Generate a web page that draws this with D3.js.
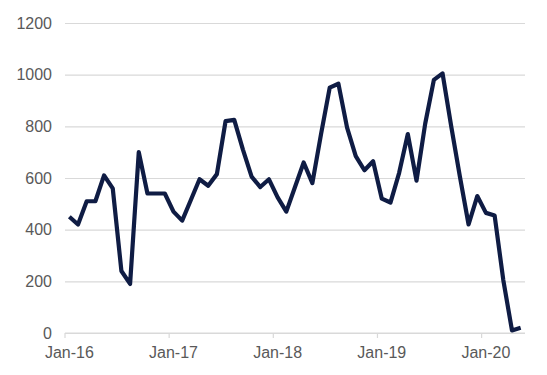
<!DOCTYPE html>
<html>
<head>
<meta charset="utf-8">
<style>
  body { margin: 0; background: #fff; }
  text { font-family: "Liberation Sans", Arial, sans-serif; }
</style>
</head>
<body>
<div id="chart"></div>
<script src="https://cdn.jsdelivr.net/npm/d3@7/dist/d3.min.js"></script>
<script>
// monthly series, Jan-16 .. May-20
const startMonth = new Date(2016, 0, 1);
const endMonth = new Date(2020, 5, 1);
const values = [
  450, 420, 510, 510, 610, 560, 240, 190, 700, 540, 540, 540,
  470, 435, 515, 595, 570, 615, 820, 825, 710, 605, 565, 595,
  525, 470, 565, 660, 580, 770, 950, 965, 795, 685, 630, 665,
  520, 505, 620, 770, 590, 810, 980, 1005, 800, 605, 420, 530,
  465, 455, 205, 10, 20
];
const yTicks = [0, 200, 400, 600, 800, 1000, 1200];
const xLabelMonths = ["Jan-16", "Jan-17", "Jan-18", "Jan-19", "Jan-20"];

const W = 547, H = 375;
const margin = { top: 23, right: 22, bottom: 42, left: 65 };
const fmt = d3.timeFormat("%b-%y");
const months = d3.timeMonth.range(startMonth, endMonth).map(fmt);

const svg = d3.select("#chart").append("svg")
  .attr("width", W).attr("height", H);

const x = d3.scaleBand()
  .domain(months)
  .range([margin.left, W - margin.right]);

const y = d3.scaleLinear()
  .domain([0, 1200])
  .range([H - margin.bottom, margin.top]);

// gridlines + y labels
const yAxis = svg.append("g")
  .attr("transform", `translate(${margin.left},0)`)
  .call(d3.axisLeft(y).tickValues(yTicks).tickSize(-(W - margin.left - margin.right)).tickPadding(13).tickFormat(d3.format("d")));
yAxis.select(".domain").remove();
yAxis.selectAll("line").attr("stroke", "#d9d9d9").attr("stroke-width", 1.2);
yAxis.selectAll("text").attr("fill", "#595959").style("font-size", "16px");

// x axis line and ticks at band edges
const base = y(0);
const xg = svg.append("g");
xg.append("line")
  .attr("x1", margin.left).attr("x2", W - margin.right)
  .attr("y1", base).attr("y2", base)
  .attr("stroke", "#d9d9d9").attr("stroke-width", 1.2);
xg.selectAll(".tk").data(xLabelMonths).enter().append("line")
  .attr("x1", d => x(d)).attr("x2", d => x(d))
  .attr("y1", base).attr("y2", base + 5)
  .attr("stroke", "#d9d9d9").attr("stroke-width", 1.2);
xg.selectAll(".lbl").data(xLabelMonths).enter().append("text")
  .attr("x", d => x(d) + x.bandwidth() / 2)
  .attr("y", base + 25)
  .attr("text-anchor", "middle")
  .attr("fill", "#595959")
  .style("font-size", "16px")
  .text(d => d);

// series line
const line = d3.line()
  .x((d, i) => x(months[i]) + x.bandwidth() / 2)
  .y(d => y(d));

svg.append("path")
  .datum(values)
  .attr("fill", "none")
  .attr("stroke", "#0f1c44")
  .attr("stroke-width", 4.2)
  .attr("stroke-linejoin", "round")
  .attr("d", line);
</script>
</body>
</html>
